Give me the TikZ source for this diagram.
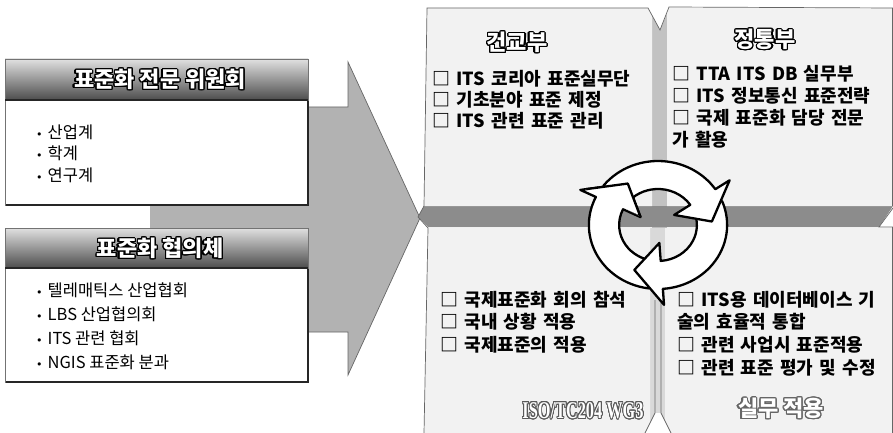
\documentclass[tikz,border=0pt]{standalone}
\usepackage{graphicx}
\usepackage{fontspec}
\usepackage[copies]{contour}
\newfontfamily\kr{Noto Sans CJK KR}
\newfontfamily\dv{DejaVu Sans}
\newfontfamily\lser{Liberation Serif}
\contourlength{1.2pt}
\contournumber{24}
\newcommand\bul{{\dv\fontsize{11}{11}\selectfont •}\hspace{5pt}}
\newcommand\widesp{\spaceskip=6.3pt plus 1pt\relax}
\newcommand\cycarrow[3]{%
  \filldraw[fill=white,draw=black,line width=2.3pt,line join=round]
    (#1:64) arc[start angle=#1,end angle=#2,radius=64] -- (#2:80) -- (#3:50)
    -- (#2:18) -- (#2:36) arc[start angle=#2,end angle=#1,radius=36] -- cycle;}
\tikzset{
  boxline/.style={draw=black!55,line width=0.6pt},
  shadowline/.style={draw=black!85,line width=2.4pt},
  qline/.style={draw=black!60,line width=0.7pt},
  itm/.style={anchor=west,inner sep=0pt,font=\kr\bfseries\fontsize{18}{21}\selectfont,execute at begin node=\widesp},
  litm/.style={anchor=west,inner sep=0pt,font=\kr\fontsize{16.5}{19}\selectfont},
  hdr/.style={inner sep=0pt,text=white,font=\kr\bfseries\fontsize{22}{22}\selectfont},
  qtitle/.style={inner sep=0pt,text=white,font=\kr\bfseries\fontsize{22}{22}\selectfont},
}
\begin{document}
\begin{tikzpicture}[x=1pt,y=-1pt]
\useasboundingbox (0,0) rectangle (893,433);
\fill[white] (0,0) rectangle (893,433);

% big gray arrow
\fill[black!30] (150,107) -- (348,107) -- (348,62) -- (420,218) -- (348,375) -- (348,332) -- (150,332) -- cycle;
\draw[qline] (300,107) -- (348,107) -- (348,62) -- (420,218) -- (348,375) -- (348,332) -- (300,332);

% left box 1
\draw[boxline,fill=white] (5,100) rectangle (308,205);
\draw[shadowline] (6,205) -- (308,205) -- (308,100);
\shade[top color=black!12,bottom color=black!70] (5,59) rectangle (308,100);
\draw[boxline] (5,59) rectangle (308,100);
\draw[black!85,line width=1.5pt] (5,100) -- (308,100);
\node[hdr] (h1) at (160,80) {\contour{black}{표준화 전문 위원회}};
\node[litm] (a1) at (36,132) {\bul 산업계};
\node[litm] (a2) at (36,153) {\bul 학계};
\node[litm] (a3) at (36,175) {\bul 연구계};

% left box 2
\draw[boxline,fill=white] (5,268) rectangle (308,382);
\draw[shadowline] (6,382) -- (308,382) -- (308,268);
\shade[top color=black!12,bottom color=black!70] (5,228) rectangle (308,268);
\draw[boxline] (5,228) rectangle (308,268);
\draw[black!85,line width=1.5pt] (5,268) -- (308,268);
\node[hdr] (h2) at (160,249) {\contour{black}{표준화 협의체}};
\node[litm] (b1) at (36,290) {\bul 텔레매틱스 산업협회};
\node[litm] (b2) at (36,314) {\bul LBS 산업협의회};
\node[litm] (b3) at (36,338) {\bul ITS 관련 협회};
\node[litm] (b4) at (36,362) {\bul NGIS 표준화 분과};

% right panel: bands
\fill[black!24] (652,8) rectangle (667,228);
\fill[black!15] (650,228) rectangle (665,433);
\fill[black!45] (418,217) -- (424,206) -- (893,206) -- (879,227) -- (428,227) -- cycle;
% quadrants
\fill[black!5] (427,8) -- (648,8) -- (652,15) -- (652,206) -- (424,206) -- cycle;
\fill[black!5] (669,8) -- (893,8) -- (893,206) -- (667,206) -- (667,12) -- cycle;
\fill[black!5] (428,228) -- (650,228) -- (650,433) -- (424,433) -- cycle;
\fill[black!5] (665,228) -- (893,228) -- (893,433) -- (665,433) -- cycle;
% notches
\fill[white] (648,8) -- (660,30) -- (669,8) -- cycle;
\fill[white] (893,208) -- (879,227) -- (893,227) -- cycle;
\fill[white] (645,434) -- (655,413) -- (661,413) -- (671,434) -- cycle;
% outlines
\draw[qline] (424,206) -- (427,8) -- (648,8) -- (660,30) -- (669,7) -- (893,8);
\draw[qline] (424,206) -- (418,217) -- (428,228) -- (424,433);
\draw[qline] (893,208) -- (879,227) -- (893,227);
\draw[qline] (892,8) -- (892,206);
\draw[qline] (892,227) -- (892,433);
\draw[qline] (655,300) -- (655,413) -- (645,433);
\draw[qline] (661,300) -- (661,413) -- (671,433);

% quadrant texts
\node[qtitle] (t1) at (517,43) {\contour{black}{건교부}};
\node[itm] (u1) at (432,79) {□ ITS 코리아 표준실무단};
\node[itm] (u2) at (432,100) {□ 기초분야 표준 제정};
\node[itm] (u3) at (432,121) {□ ITS 관련 표준 관리};

\node[qtitle] (t2) at (765,40) {\contour{black}{정통부}};
\node[itm] (r1) at (672,74) {□ TTA ITS DB 실무부};
\node[itm] (r2) at (672,96) {□ ITS 정보통신 표준전략};
\node[itm] (r3) at (672,118) {□ 국제 표준화 담당 전문};
\node[itm] (r4) at (672,140) {가 활용};

\node[itm] (l1) at (440,300) {□ 국제표준화 회의 참석};
\node[itm] (l2) at (440,322) {□ 국내 상황 적용};
\node[itm] (l3) at (440,345) {□ 국제표준의 적용};
\node[inner sep=0pt,text=white,font=\lser\bfseries\fontsize{24}{24}\selectfont] (t3) at (583,411) {\scalebox{0.68}[1]{\contour{black!65}{ISO/TC204 WG3}}};

\node[itm] (g1) at (677,300) {□ ITS용 데이터베이스 기};
\node[itm] (g2) at (677,322) {술의 효율적 통합};
\node[itm] (g3) at (677,345) {□ 관련 사업시 표준적용};
\node[itm] (g4) at (677,368) {□ 관련 표준 평가 및 수정};
\node[qtitle] (t4) at (781,409) {\contour{black!60}{실무 적용}};

% cycle icon
\begin{scope}[shift={(658,225)},x=1.08pt,y=1pt]
  \cycarrow{-98}{-206}{-236}
  \cycarrow{22}{-86}{-116}
  \cycarrow{142}{34}{4}
  \begin{scope}
    \clip (0,0) -- (110:120) arc[start angle=110,end angle=152,radius=120] -- cycle;
    \cycarrow{-98}{-206}{-236}
  \end{scope}
\end{scope}
\end{tikzpicture}
\end{document}
